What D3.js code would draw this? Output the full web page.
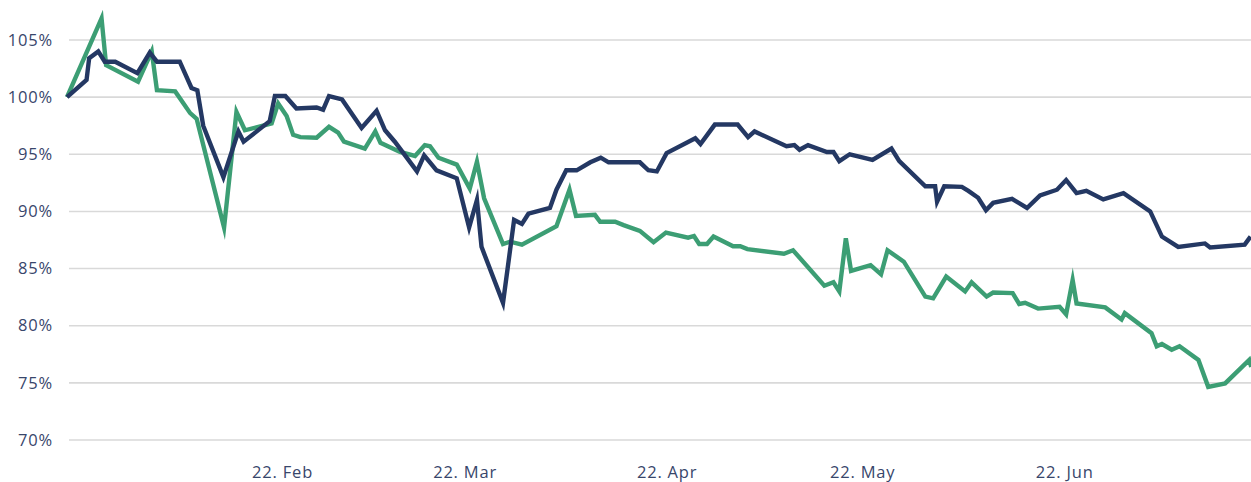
<!DOCTYPE html>
<html>
<head>
<meta charset="utf-8">
<script src="https://cdn.jsdelivr.net/npm/d3@7"></script>
<style>
  html, body { margin: 0; padding: 0; background: #ffffff; }
  svg { display: block; }
  .axis text { font-family: "Open Sans", sans-serif; font-size: 16.5px; fill: #38466b; letter-spacing: 0.8px; }
</style>
</head>
<body>
<svg id="chart" width="1251" height="482"></svg>
<script>
// ---- data (x = days after start date, y = percent) ----
const startDate = "2022-01-20T00:00:00Z";
const endDate = "2022-07-20T16:00:00Z";

const blueDays = [0, 3.0, 3.4, 4.8, 5.8, 7.4, 10.8, 12.7, 13.8, 17.3, 19.1, 20.0, 20.9, 24.0, 26.3, 27.1, 31.1, 31.9, 33.5, 35.2, 38.3, 39.3, 40.2, 42.2, 45.2, 47.5, 48.8, 50.3, 53.7, 54.8, 56.7, 59.8, 61.7, 62.9, 63.6, 66.9, 68.6, 69.8, 70.8, 74.1, 75.1, 76.6, 78.2, 80.3, 81.9, 83.1, 87.9, 89.2, 90.5, 92.0, 96.4, 97.2, 99.4, 102.9, 104.5, 105.5, 110.4, 111.6, 112.4, 113.7, 116.6, 117.6, 118.5, 120.1, 123.6, 126.5, 127.7, 131.7, 133.2, 133.5, 134.6, 137.3, 138.3, 139.8, 141.0, 142.1, 145.0, 147.3, 149.3, 151.9, 153.3, 154.9, 156.4, 159.0, 162.1, 166.2, 168.0, 170.5, 174.6, 175.4, 180.7, 181.6];
const blueValues = [100.0, 101.5, 103.4, 104.0, 103.1, 103.1, 102.1, 103.9, 103.1, 103.1, 100.8, 100.6, 97.5, 93.0, 97.0, 96.1, 97.9, 100.1, 100.1, 99.0, 99.1, 98.9, 100.1, 99.8, 97.3, 98.8, 97.1, 96.1, 93.5, 94.9, 93.6, 92.9, 88.6, 91.0, 86.9, 82.0, 89.25, 88.9, 89.8, 90.3, 91.9, 93.6, 93.6, 94.3, 94.7, 94.3, 94.3, 93.6, 93.5, 95.1, 96.4, 95.9, 97.6, 97.6, 96.5, 97.0, 95.7, 95.8, 95.4, 95.8, 95.2, 95.2, 94.4, 95.0, 94.5, 95.5, 94.4, 92.2, 92.2, 90.85, 92.2, 92.15, 91.8, 91.2, 90.1, 90.75, 91.1, 90.3, 91.4, 91.9, 92.75, 91.6, 91.8, 91.05, 91.6, 90.0, 87.8, 86.9, 87.2, 86.85, 87.1, 87.8];

const greenDays = [0, 5.3, 6.0, 10.9, 13.0, 13.8, 16.6, 18.9, 19.9, 24.1, 26.0, 27.3, 31.4, 32.4, 33.7, 34.7, 35.8, 38.3, 40.2, 41.6, 42.5, 45.7, 47.3, 48.1, 51.1, 53.4, 54.9, 55.7, 57.0, 59.8, 61.8, 62.9, 64.0, 66.9, 68.0, 69.8, 75.1, 77.1, 78.1, 81.0, 81.8, 84.1, 85.4, 87.9, 90.0, 91.9, 95.3, 96.2, 97.0, 98.2, 99.2, 102.2, 103.3, 104.4, 110.0, 111.4, 116.2, 117.6, 118.5, 119.5, 120.3, 123.3, 124.9, 125.9, 128.4, 131.7, 132.9, 134.9, 137.8, 138.8, 141.1, 142.1, 145.1, 146.1, 147.0, 149.0, 152.3, 153.3, 154.3, 154.9, 159.3, 161.8, 162.3, 166.4, 167.2, 168.0, 169.5, 170.7, 173.6, 175.1, 177.7, 181.4, 181.7];
const greenValues = [100.0, 106.9, 102.8, 101.35, 104.0, 100.6, 100.5, 98.6, 98.1, 88.6, 98.7, 97.1, 97.7, 99.45, 98.35, 96.7, 96.5, 96.45, 97.4, 96.9, 96.1, 95.5, 97.0, 96.0, 95.2, 94.85, 95.8, 95.7, 94.7, 94.1, 92.0, 94.35, 91.15, 87.15, 87.35, 87.1, 88.7, 91.9, 89.6, 89.7, 89.1, 89.1, 88.8, 88.3, 87.3, 88.15, 87.7, 87.85, 87.15, 87.15, 87.8, 86.95, 86.95, 86.7, 86.3, 86.6, 83.5, 83.8, 83.0, 87.65, 84.8, 85.3, 84.5, 86.6, 85.6, 82.55, 82.4, 84.3, 83.0, 83.8, 82.55, 82.9, 82.85, 81.9, 82.0, 81.5, 81.65, 81.0, 84.0, 81.95, 81.6, 80.55, 81.1, 79.35, 78.2, 78.4, 77.9, 78.2, 77.0, 74.65, 74.95, 77.0, 76.4];

const yTicks = [70, 75, 80, 85, 90, 95, 100, 105];
const xTickDates = ["2022-02-22", "2022-03-22", "2022-04-22", "2022-05-22", "2022-06-22"];

// ---- chart ----
const svg = d3.select("#chart");
const W = 1251, H = 482;
const plotLeft = 67, plotRight = 1251, plotTop = 40, plotBottom = 440;

const start = new Date(startDate);
const toDate = d => new Date(start.getTime() + d * 86400000);

const x = d3.scaleUtc()
  .domain([start, new Date(endDate)])
  .range([plotLeft, plotRight]);
const y = d3.scaleLinear().domain([70, 105]).range([plotBottom, plotTop]);

// gridlines
svg.append("g").selectAll("line").data(yTicks).join("line")
  .attr("x1", plotLeft + 2).attr("x2", W)
  .attr("y1", d => y(d)).attr("y2", d => y(d))
  .attr("stroke", "#d9d9d9").attr("stroke-width", 1.6);

// y axis
const yAxis = svg.append("g").attr("class", "axis")
  .attr("transform", `translate(${plotLeft},0)`)
  .call(d3.axisLeft(y).tickValues(yTicks).tickFormat(d => d + "%").tickSize(0).tickPadding(14));
yAxis.select(".domain").remove();

// x axis
const xAxis = svg.append("g").attr("class", "axis")
  .attr("transform", `translate(0,${plotBottom})`)
  .call(d3.axisBottom(x).tickValues(xTickDates.map(s => new Date(s + "T00:00:00Z")))
    .tickFormat(d3.utcFormat("%-d. %b")).tickSize(0).tickPadding(26));
xAxis.select(".domain").remove();

const line = d3.line().x(d => x(d.date)).y(d => y(d.value));

const green = greenDays.map((d, i) => ({ date: toDate(d), value: greenValues[i] }));
const blue = blueDays.map((d, i) => ({ date: toDate(d), value: blueValues[i] }));

svg.append("path").datum(green)
  .attr("d", line).attr("fill", "none")
  .attr("stroke", "#3c9e74").attr("stroke-width", 4.4)
  .attr("stroke-linejoin", "miter").attr("stroke-miterlimit", 6);

svg.append("path").datum(blue)
  .attr("d", line).attr("fill", "none")
  .attr("stroke", "#243863").attr("stroke-width", 4.4)
  .attr("stroke-linejoin", "miter").attr("stroke-miterlimit", 6);
</script>
</body>
</html>
